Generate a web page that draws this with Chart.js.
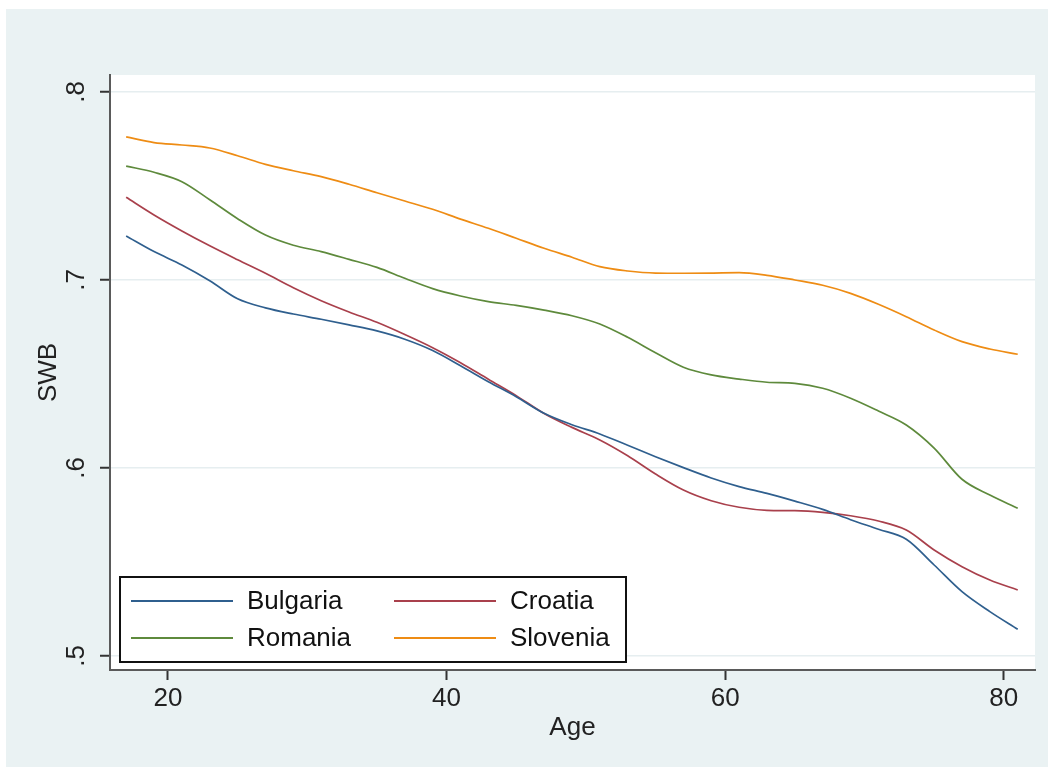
<!DOCTYPE html>
<html>
<head>
<meta charset="utf-8">
<script src="https://cdn.jsdelivr.net/npm/chart.js@4.4.0/dist/chart.umd.min.js"></script>
<style>
  html, body { margin: 0; padding: 0; background: #ffffff; }
  #swb { display: block; }
</style>
</head>
<body>
<canvas id="swb" width="1048" height="767"></canvas>
<script>
// values, every 2 years of age
const ages = [17, 19, 21, 23, 25, 27, 29, 31, 33, 35, 37, 39, 41, 43, 45, 47, 49,
  51, 53, 55, 57, 59, 61, 63, 65, 67, 69, 71, 73, 75, 77, 79, 81];
const bulgaria = [0.7234, 0.7151, 0.7080, 0.6996, 0.6900, 0.6852, 0.6819, 0.6791, 0.6761, 0.6729, 0.6685,
  0.6625, 0.6544, 0.6459, 0.6379, 0.6291, 0.6230, 0.6181, 0.6121, 0.6060, 0.6002, 0.5947,
  0.5901, 0.5865, 0.5824, 0.5780, 0.5725, 0.5674, 0.5621, 0.5484, 0.5342, 0.5236, 0.5142];
const croatia = [0.7440, 0.7346, 0.7261, 0.7182, 0.7108, 0.7036, 0.6959, 0.6890, 0.6830, 0.6775, 0.6710,
  0.6640, 0.6560, 0.6472, 0.6385, 0.6290, 0.6216, 0.6149, 0.6065, 0.5968, 0.5883, 0.5826,
  0.5791, 0.5775, 0.5773, 0.5764, 0.5746, 0.5718, 0.5670, 0.5564, 0.5475, 0.5404, 0.5351];
const romania = [0.7606, 0.7573, 0.7523, 0.7427, 0.7326, 0.7239, 0.7185, 0.7151, 0.7110, 0.7067, 0.7009,
  0.6954, 0.6915, 0.6885, 0.6865, 0.6840, 0.6810, 0.6766, 0.6695, 0.6613, 0.6536, 0.6495,
  0.6473, 0.6456, 0.6450, 0.6424, 0.6371, 0.6303, 0.6229, 0.6106, 0.5940, 0.5856, 0.5786];
const slovenia = [0.7761, 0.7731, 0.7718, 0.7702, 0.7661, 0.7615, 0.7581, 0.7550, 0.7509, 0.7464, 0.7420,
  0.7376, 0.7324, 0.7275, 0.7222, 0.7169, 0.7121, 0.7071, 0.7048, 0.7037, 0.7036, 0.7037,
  0.7039, 0.7025, 0.7000, 0.6972, 0.6929, 0.6871, 0.6805, 0.6734, 0.6672, 0.6633, 0.6605];

const seriesNames = ['Bulgaria', 'Croatia', 'Romania', 'Slovenia'];
const xTicks = [20, 40, 60, 80];
const yTicks = [0.5, 0.6, 0.7, 0.8];

const FONT = '"Liberation Sans", Arial, sans-serif';
const FS = 26;
const BG = '#eaf2f3';
const colors = ['#2f5f8e', '#a9404c', '#5e8a3c', '#ee8c14'];

const toPoints = ys => ys.map((y, i) => ({ x: ages[i], y: y }));

// stata-ish backdrop: light frame, white plot region
const backdrop = {
  id: 'backdrop',
  beforeDraw(chart) {
    const { ctx, chartArea: a } = chart;
    ctx.save();
    ctx.fillStyle = '#ffffff';
    ctx.fillRect(0, 0, chart.width, chart.height);
    ctx.fillStyle = BG;
    ctx.fillRect(6, 9, chart.width - 6, chart.height - 9);
    ctx.fillStyle = '#ffffff';
    ctx.fillRect(a.left, a.top, a.right - a.left, a.bottom - a.top);
    ctx.restore();
  }
};

// legend box in the lower left of the plot, 2 columns
const boxLegend = {
  id: 'boxLegend',
  afterDraw(chart) {
    const { ctx } = chart;
    const box = { x: 120, y: 577, w: 506, h: 85 };
    ctx.save();
    ctx.fillStyle = '#ffffff';
    ctx.fillRect(box.x, box.y, box.w, box.h);
    ctx.strokeStyle = '#111111';
    ctx.lineWidth = 2;
    ctx.strokeRect(box.x, box.y, box.w, box.h);
    ctx.font = FS + 'px ' + FONT;
    ctx.textBaseline = 'middle';
    ctx.fillStyle = '#111111';
    chart.data.datasets.forEach((ds, i) => {
      const col = i % 2, row = Math.floor(i / 2);
      const lx = col === 0 ? 131 : 394;
      const ly = row === 0 ? 601 : 638;
      ctx.strokeStyle = ds.borderColor;
      ctx.lineWidth = 2;
      ctx.beginPath();
      ctx.moveTo(lx, ly);
      ctx.lineTo(lx + 102, ly);
      ctx.stroke();
      ctx.fillText(ds.label, lx + 116, ly + 1);
    });
    ctx.restore();
  }
};

const ctx = document.getElementById('swb').getContext('2d');
new Chart(ctx, {
  type: 'line',
  data: {
    datasets: [bulgaria, croatia, romania, slovenia].map((ys, i) => ({
      label: seriesNames[i],
      data: toPoints(ys),
      borderColor: colors[i],
      borderWidth: 1.7,
      pointRadius: 0,
      fill: false,
      cubicInterpolationMode: 'monotone'
    }))
  },
  options: {
    responsive: false,
    animation: false,
    layout: { padding: { left: 0, top: 75, right: 13, bottom: 0 } },
    plugins: {
      legend: { display: false },
      tooltip: { enabled: false }
    },
    scales: {
      x: {
        type: 'linear',
        min: 15.84,
        max: 82.24,
        afterBuildTicks: s => { s.ticks = xTicks.map(v => ({ value: v })); },
        afterFit: s => { s.height = 97; },
        ticks: {
          color: '#222222',
          font: { family: FONT, size: FS },
          padding: 3,
          maxRotation: 0,
          callback: v => String(v)
        },
        grid: { drawOnChartArea: false, drawTicks: true, tickLength: 10, tickColor: '#333333', tickWidth: 2 },
        border: { display: true, color: '#5a5a5a', width: 2 },
        title: {
          display: true,
          text: 'Age',
          color: '#222222',
          font: { family: FONT, size: FS },
          padding: { top: 0, bottom: 24 }
        }
      },
      y: {
        min: 0.49255,
        max: 0.80904,
        afterBuildTicks: s => { s.ticks = yTicks.map(v => ({ value: v })); },
        afterFit: s => { s.width = 110; },
        ticks: {
          color: '#222222',
          font: { family: FONT, size: FS },
          padding: 12,
          minRotation: 90,
          maxRotation: 90,
          crossAlign: 'center',
          callback: v => v.toFixed(1).replace(/^0/, '')
        },
        grid: { color: '#e6eef0', lineWidth: 1.5, drawTicks: true, tickLength: 10, tickColor: '#333333', tickWidth: 2 },
        border: { display: true, color: '#5a5a5a', width: 2 },
        title: {
          display: true,
          text: 'SWB',
          color: '#222222',
          font: { family: FONT, size: FS },
          padding: { top: 33, bottom: 0 }
        }
      }
    }
  },
  plugins: [backdrop, boxLegend]
});
</script>
</body>
</html>
